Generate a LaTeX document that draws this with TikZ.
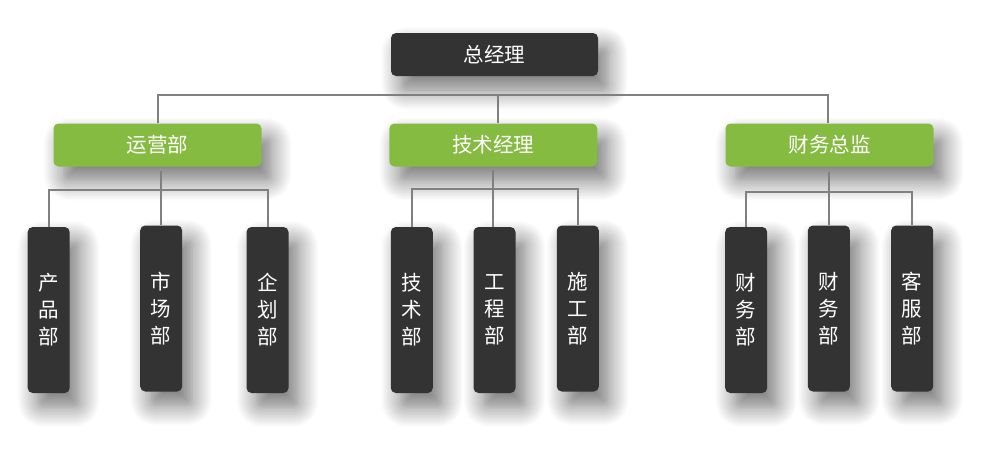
\documentclass[tikz,border=0pt]{standalone}
\usepackage{fontspec}
\setmainfont{Noto Sans CJK SC}
\usetikzlibrary{shadows.blur}
\definecolor{boxdark}{HTML}{333333}
\definecolor{boxgreen}{HTML}{86BB42}
\definecolor{linegray}{HTML}{808080}
\tikzset{
  shad/.style={blur shadow={shadow xshift=10pt, shadow yshift=-14pt, shadow blur radius=20pt, shadow blur steps=14, shadow opacity=55}},
  topbox/.style={shad, fill=boxdark, rounded corners=5pt, minimum width=207pt, minimum height=43pt, inner sep=0pt, text=white, font=\fontsize{20.5}{23}\selectfont},
  greenbox/.style={shad, fill=boxgreen, rounded corners=5pt, minimum width=208pt, minimum height=43pt, inner sep=0pt, text=white, font=\fontsize{20.5}{23}\selectfont},
  darkbox/.style={shad, fill=boxdark, rounded corners=5pt, minimum width=42pt, minimum height=166pt, inner sep=0pt, text=white, align=center, font=\fontsize{20.5}{27}\selectfont},
  conn/.style={draw=linegray, line width=2pt}
}
\begin{document}
\begin{tikzpicture}[x=1pt,y=-1pt]
\useasboundingbox (0,0) rectangle (983,461);
% nodes
\node[topbox] (gm) at (494.5,54.5) {总经理};
\node[greenbox] (ops) at (157.5,145) {运营部};
\node[greenbox] (tech) at (493.3,145) {技术经理};
\node[greenbox] (fin) at (829.5,145) {财务总监};
\node[darkbox] (a1) at (48.7,310) {产\\品\\部};
\node[darkbox] (a2) at (161.2,308.5) {市\\场\\部};
\node[darkbox] (a3) at (267.5,310) {企\\划\\部};
\node[darkbox] (b1) at (411.8,310) {技\\术\\部};
\node[darkbox] (b2) at (494.5,310) {工\\程\\部};
\node[darkbox] (b3) at (577.8,308.5) {施\\工\\部};
\node[darkbox] (c1) at (746.2,310) {财\\务\\部};
\node[darkbox] (c2) at (828.9,308.5) {财\\务\\部};
\node[darkbox] (c3) at (912.2,308.5) {客\\服\\部};
% top level connectors
\coordinate (tb) at (497.5,95);
\draw[conn] (ops.north -| 158,0) |- (tb) -| (fin.north -| 828,0);
\draw[conn] (tb) -- (tb |- tech.north);
% group connectors
\coordinate (ab) at (161.2,190);
\draw[conn] (a1.north) |- (ab) -| (a3.north);
\draw[conn] ([yshift=-4pt]ops.south -| a2.north) -- (a2.north);
\coordinate (bb) at (493.3,189);
\draw[conn] (b1.north) |- (bb) -| (b3.north);
\draw[conn] ([yshift=-3pt]tech.south) -- (tech.south |- b2.north);
\coordinate (cb) at (828.6,192);
\draw[conn] (c1.north) |- (cb) -| (c3.north);
\draw[conn] ([yshift=-5pt]fin.south -| c2.north) -- (c2.north);
\end{tikzpicture}
\end{document}
